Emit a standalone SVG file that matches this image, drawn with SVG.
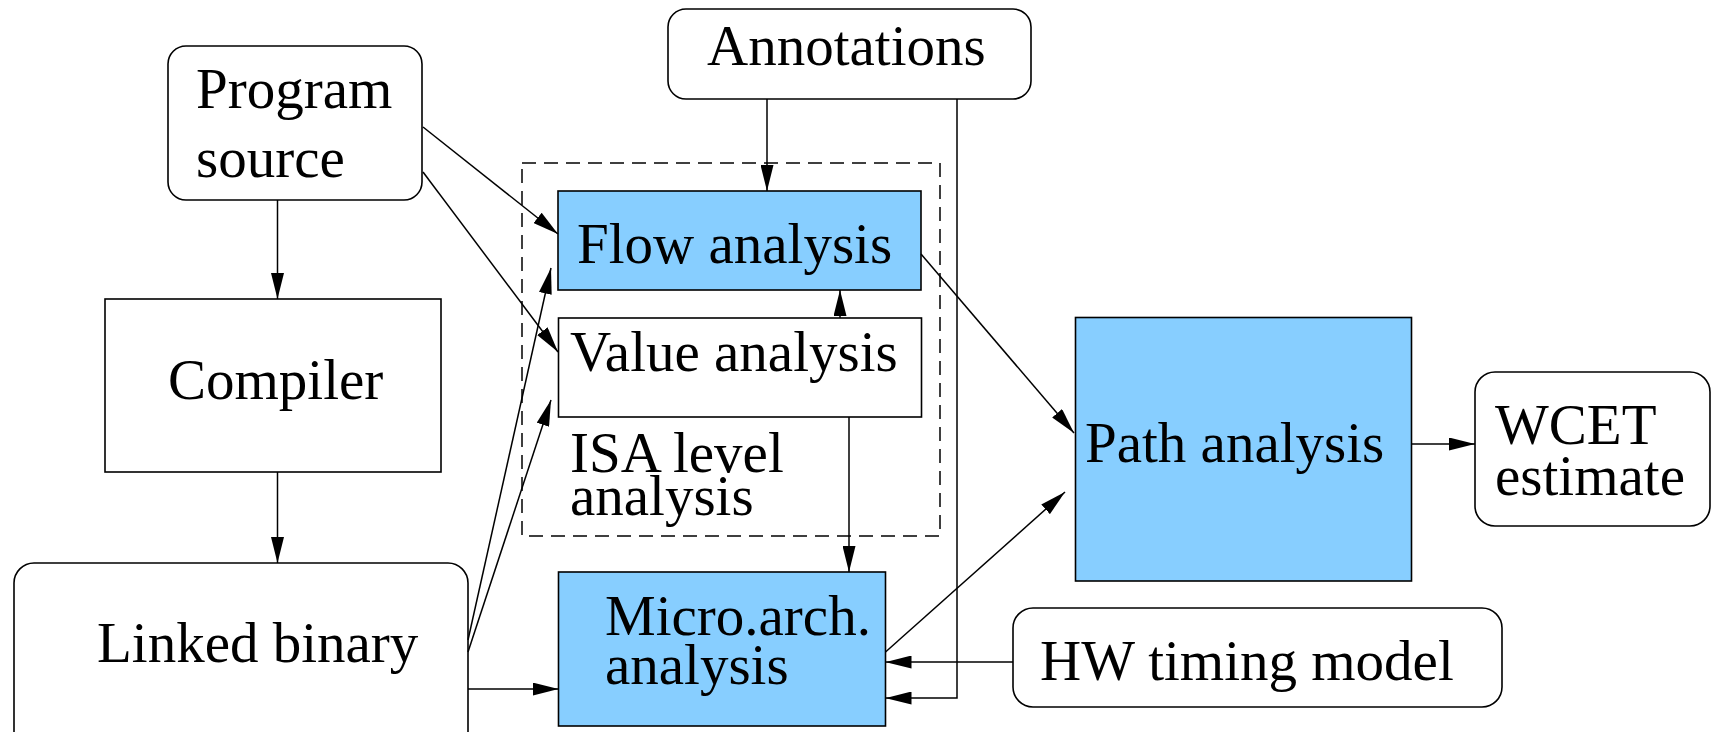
<svg xmlns="http://www.w3.org/2000/svg" width="1711" height="732" viewBox="0 0 1711 732">
<style>
.box{fill:#fff;stroke:#000;stroke-width:1.6}
.blue{fill:#87CEFF;stroke:#000;stroke-width:1.6}
.dash{fill:none;stroke:#000;stroke-width:1.5;stroke-dasharray:14 8}
.t{font-family:"Liberation Serif","Times New Roman",serif;font-size:57px;fill:#000}
.c line,.c polyline{stroke:#000;stroke-width:1.5;fill:none}
</style>
<defs>
<marker id="ah" markerUnits="userSpaceOnUse" markerWidth="26" markerHeight="13" refX="26" refY="6.5" orient="auto">
<path d="M0,0 L26,6.5 L0,13 z" fill="#000"/>
</marker>
</defs>
<rect width="1711" height="732" fill="#fff"/>
<g id="isa-group">
<rect class="dash" x="522" y="163" width="418" height="373"/>
<text class="t" x="570" y="472">ISA level</text>
<text class="t" x="570" y="515">analysis</text>
</g>
<g id="annotations">
<rect class="box" x="668" y="9" width="363" height="90" rx="18"/>
<text class="t" x="707" y="65">Annotations</text>
</g>
<g id="program-source">
<rect class="box" x="168" y="46" width="254" height="154" rx="18"/>
<text class="t" x="196" y="108">Program</text>
<text class="t" x="196" y="177">source</text>
</g>
<g id="compiler">
<rect class="box" x="105" y="299" width="336" height="173"/>
<text class="t" x="168" y="399">Compiler</text>
</g>
<g id="linked-binary">
<rect class="box" x="14" y="563" width="454" height="190" rx="20"/>
<text class="t" x="97" y="662">Linked binary</text>
</g>
<g id="flow-analysis">
<rect class="blue" x="558" y="191" width="363" height="99"/>
<text class="t" x="577" y="263">Flow analysis</text>
</g>
<g id="value-analysis">
<rect class="box" x="558.5" y="318" width="363" height="99"/>
<text class="t" x="570" y="371">Value analysis</text>
</g>
<g id="micro-arch">
<rect class="blue" x="558.5" y="572" width="327" height="154"/>
<text class="t" x="605" y="635">Micro.arch.</text>
<text class="t" x="605" y="684">analysis</text>
</g>
<g id="path-analysis">
<rect class="blue" x="1075.5" y="317.5" width="336" height="263.5"/>
<text class="t" x="1085" y="462">Path analysis</text>
</g>
<g id="wcet">
<rect class="box" x="1475" y="372" width="235" height="154" rx="20"/>
<text class="t" x="1495" y="444">WCET</text>
<text class="t" x="1495" y="495">estimate</text>
</g>
<g id="hw-timing">
<rect class="box" x="1013" y="608" width="489" height="99" rx="20"/>
<text class="t" x="1040" y="680">HW timing model</text>
</g>
<g id="connectors" class="c">
<line x1="277.5" y1="200" x2="277.5" y2="299" marker-end="url(#ah)"/>
<line x1="277.5" y1="472" x2="277.5" y2="563" marker-end="url(#ah)"/>
<line x1="423" y1="127" x2="558" y2="234" marker-end="url(#ah)"/>
<line x1="423" y1="172" x2="558" y2="352" marker-end="url(#ah)"/>
<line x1="468" y1="640" x2="551" y2="268" marker-end="url(#ah)"/>
<line x1="468" y1="652" x2="551" y2="400" marker-end="url(#ah)"/>
<line x1="468" y1="689" x2="558.5" y2="689" marker-end="url(#ah)"/>
<line x1="767" y1="99" x2="767" y2="191" marker-end="url(#ah)"/>
<line x1="840" y1="318" x2="840" y2="290" marker-end="url(#ah)"/>
<line x1="849" y1="417" x2="849" y2="572" marker-end="url(#ah)"/>
<line x1="921" y1="254" x2="1074" y2="433" marker-end="url(#ah)"/>
<line x1="885.5" y1="652" x2="1065" y2="492" marker-end="url(#ah)"/>
<line x1="1411.5" y1="444" x2="1475" y2="444" marker-end="url(#ah)"/>
<line x1="1013" y1="662" x2="885.5" y2="662" marker-end="url(#ah)"/>
<polyline points="957,99 957,698 885.5,698" marker-end="url(#ah)"/>
</g>
</svg>
